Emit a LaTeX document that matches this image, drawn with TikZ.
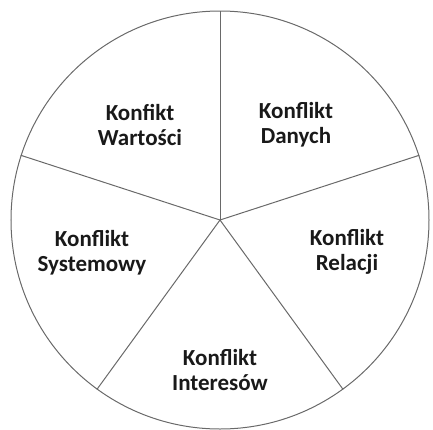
\documentclass[tikz,border=0pt]{standalone}
\usepackage{fontspec}
\setmainfont{Carlito}
\usepackage{tikz}
\usetikzlibrary{positioning}
\definecolor{spokegray}{RGB}{105,105,105}
\tikzset{
  wheel/.style={draw=spokegray, line width=1pt, circle, minimum size=418pt, inner sep=0pt},
  spoke/.style={draw=spokegray, line width=1pt},
  sector/.style={font=\fontsize{23}{25}\selectfont\bfseries, align=center, text=black!90},
}
\begin{document}
\begin{tikzpicture}[x=1pt,y=1pt]
  \useasboundingbox (-220,-209) rectangle (213,220);
  \node[wheel] (wheel) at (0,0) {};
  \foreach \a in {90,18,-54,-126,162} {\draw[spoke] (wheel.center) -- (wheel.\a);}
  \node[sector] (wartosci) at (-80, 95.5) {Konfikt\\Wartości};
  \node[sector] (danych) at (76, 95.5) {Konflikt\\Danych};
  \node[sector] (relacji) at (127, -32) {Konflikt\\Relacji};
  \node[sector] (systemowy) at (-128, -33) {Konflikt\\Systemowy};
  \node[sector] (interesow) at (0, -150) {Konflikt\\Interesów};
\end{tikzpicture}
\end{document}
